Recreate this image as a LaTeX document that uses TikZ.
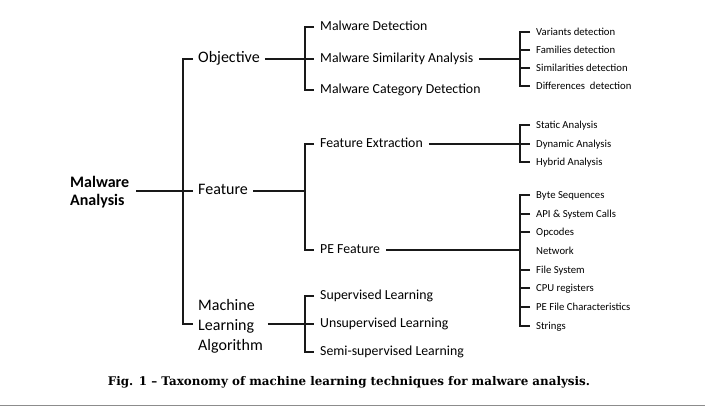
\documentclass[tikz,border=0pt]{standalone}
\usepackage{fontspec}
\setmainfont{Carlito}
\newfontfamily\capfont{DejaVu Serif}
\begin{document}
\begin{tikzpicture}[x=1pt, y=-1pt,
    branch/.style={line width=1.5pt, black!90},
    rootbox/.style={font=\bfseries\fontsize{16}{18}\selectfont, align=left, anchor=west, inner xsep=7pt, inner ysep=0pt},
    lvlone/.style={font=\fontsize{16}{20}\selectfont, anchor=west, inner xsep=5pt, inner ysep=0pt, text height=0.75em, text depth=0.1em},
    lvltwo/.style={font=\fontsize{13.8}{16}\selectfont, anchor=west, inner xsep=6pt, inner ysep=0pt, text height=0.75em, text depth=0.1em},
    lvlthree/.style={font=\fontsize{10.7}{13}\selectfont, anchor=west, inner xsep=6pt, inner ysep=0pt, text height=0.75em, text depth=0.1em}]

    % Khung hình
    \useasboundingbox (0,0) rectangle (705,406);

    % Gốc
    \node[rootbox] (root) at (63, 192) {Malware\\Analysis};

    % Nhánh cấp 1
    \node[lvlone] (obj) at (193, 59) {Objective};
    \node[lvlone] (feat) at (193, 191) {Feature};
    \node[lvlone, align=left, text height=, text depth=] (mla) at (193, 326.5) {Machine\\Learning\\Algorithm};

    % Nhánh cấp 2
    \node[lvltwo] (det) at (314, 27) {Malware Detection};
    \node[lvltwo] (sim) at (314, 59) {Malware Similarity Analysis};
    \node[lvltwo] (cat) at (314, 90) {Malware Category Detection};
    \node[lvltwo] (fext) at (314, 144) {Feature Extraction};
    \node[lvltwo] (pef) at (314, 250) {PE Feature};
    \node[lvltwo] (sup) at (314, 296) {Supervised Learning};
    \node[lvltwo] (uns) at (314, 324) {Unsupervised Learning};
    \node[lvltwo] (semi) at (314, 352) {Semi-supervised Learning};

    % Nhánh cấp 3
    \node[lvlthree] (var) at (530, 32) {Variants detection};
    \node[lvlthree] (fam) at (530, 50) {Families detection};
    \node[lvlthree] (simd) at (530, 68) {Similarities detection};
    \node[lvlthree] (dif) at (530, 86) {Differences\ \ detection};
    \node[lvlthree] (sta) at (530, 125) {Static Analysis};
    \node[lvlthree] (dyn) at (530, 144) {Dynamic Analysis};
    \node[lvlthree] (hyb) at (530, 162) {Hybrid Analysis};
    \node[lvlthree] (byte) at (530, 195) {Byte Sequences};
    \node[lvlthree] (api) at (530, 214) {API \& System Calls};
    \node[lvlthree] (opc) at (530, 232) {Opcodes};
    \node[lvlthree] (net) at (530, 251) {Network};
    \node[lvlthree] (fsys) at (530, 270) {File System};
    \node[lvlthree] (cpu) at (530, 288) {CPU registers};
    \node[lvlthree] (pefc) at (530, 307) {PE File Characteristics};
    \node[lvlthree] (str) at (530, 326) {Strings};

    % Thanh dọc và nhánh ngang cấp 1
    \draw[branch] (obj.west) -- ++(-10,0) |- ([yshift=2.5pt]mla.west);
    \draw[branch] (root.east |- feat.west) -- (feat.west);

    % Objective
    \draw[branch] (det.west) -- ++(-9,0) |- (cat.west);
    \draw[branch] (obj.east) -- (sim.west);
    \draw[branch] (var.west) -- ++(-10,0) coordinate (sbar) |- (dif.west);
    \foreach \n in {fam, simd} \draw[branch] (\n.west) -- (\n.west -| sbar);
    \draw[branch] (sim.east) -- (sim.east -| sbar);

    % Feature
    \draw[branch] (fext.west) -- ++(-9,0) coordinate (fbar) |- (pef.west);
    \draw[branch] (feat.east) -- (feat.east -| fbar);
    \draw[branch] (sta.west) -- ++(-10,0) coordinate (ebar) |- (hyb.west);
    \draw[branch] (fext.east) -- (dyn.west);
    \draw[branch] (byte.west) -- ++(-10,0) coordinate (pbar) |- (str.west);
    \foreach \n in {api, opc, fsys, cpu, pefc} \draw[branch] (\n.west) -- (\n.west -| pbar);
    \draw[branch] (pef.east) -- (pef.east -| pbar);

    % Machine Learning Algorithm
    \draw[branch] (sup.west) -- ++(-9,0) |- (semi.west);
    \draw[branch] ([yshift=2.5pt]mla.east) -- (uns.west);

    % Chú thích
    \node[font=\capfont\bfseries\fontsize{11.9}{13}\selectfont, inner sep=0pt, anchor=base] (caption) at (349, 386)
        {Fig. 1 – Taxonomy of machine learning techniques for malware analysis.};
    \draw[black!45, line width=0.8pt] (0,405) -- (705,405);

\end{tikzpicture}
\end{document}
